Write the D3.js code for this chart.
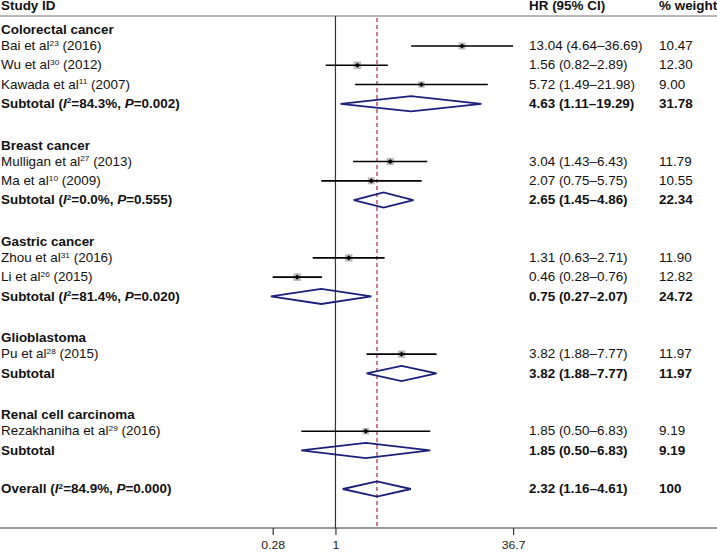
<!DOCTYPE html>
<html>
<head>
<meta charset="utf-8">
<script src="https://cdn.jsdelivr.net/npm/d3@7"></script>
<style>
  html, body { margin: 0; padding: 0; background: #fff; }
  svg { display: block; font-family: "Liberation Sans", Arial, sans-serif; }
</style>
</head>
<body>
<svg id="chart" width="717" height="552"></svg>
<script>
// ---- Data ----
const groups = ["Colorectal cancer", "Breast cancer", "Gastric cancer", "Glioblastoma", "Renal cell carcinoma"];

const studyAuthors = ["Bai et al", "Wu et al", "Kawada et al", "Mulligan et al", "Ma et al", "Zhou et al", "Li et al", "Pu et al", "Rezakhaniha et al"];
const studyRefs = ["23", "30", "11", "27", "10", "31", "26", "28", "29"];
const studyYears = ["2016", "2012", "2007", "2013", "2009", "2016", "2015", "2015", "2016"];
const studyGroup = [0, 0, 0, 1, 1, 2, 2, 3, 4];
const studyHR = [13.04, 1.56, 5.72, 3.04, 2.07, 1.31, 0.46, 3.82, 1.85];
const studyLo = [4.64, 0.82, 1.49, 1.43, 0.75, 0.63, 0.28, 1.88, 0.50];
const studyHi = [36.69, 2.89, 21.98, 6.43, 5.75, 2.71, 0.76, 7.77, 6.83];
const studyWeight = ["10.47", "12.30", "9.00", "11.79", "10.55", "11.90", "12.82", "11.97", "9.19"];

const subI2 = ["84.3%", "0.0%", "81.4%", null, null];
const subP = ["0.002", "0.555", "0.020", null, null];
const subHR = [4.63, 2.65, 0.75, 3.82, 1.85];
const subLo = [1.11, 1.45, 0.27, 1.88, 0.50];
const subHi = [19.29, 4.86, 2.07, 7.77, 6.83];
const subWeight = ["31.78", "22.34", "24.72", "11.97", "9.19"];

const overallI2 = "84.9%";
const overallP = "0.000";
const overallHR = 2.32;
const overallLo = 1.16;
const overallHi = 4.61;
const overallWeight = "100";

const tickValues = [0.28, 1, 36.7];
const tickLabels = ["0.28", "1", "36.7"];

// ---- Layout ----
const W = 717, H = 552;
const svg = d3.select("#chart");
const FS = 12;
const SX = 1.12; // horizontal stretch of the reference's lettering
const colLabel = 1, colHR = 529, colW = 659;
const headerLineY = 16, axisY = 528;

const x = d3.scaleLog().domain([0.28, 36.7]).range([272.7, 513.1]);
const fmt = d3.format(".2f");
const ciText = (h, l, u) => `${fmt(h)} (${fmt(l)}\u2013${fmt(u)})`;

// Build rows
const rows = [];
let r = 0;
groups.forEach((g, gi) => {
  rows.push({ type: "heading", row: r++, label: g });
  studyAuthors.forEach((a, si) => {
    if (studyGroup[si] !== gi) return;
    rows.push({ type: "study", row: r++, author: a, ref: studyRefs[si], year: studyYears[si],
      hr: studyHR[si], lo: studyLo[si], hi: studyHi[si], w: studyWeight[si] });
  });
  rows.push({ type: "sub", row: r++, i2: subI2[gi], p: subP[gi],
    hr: subHR[gi], lo: subLo[gi], hi: subHi[gi], w: subWeight[gi] });
  r++; // blank
});
rows.push({ type: "overall", row: r, i2: overallI2, p: overallP, hr: overallHR, lo: overallLo, hi: overallHi, w: overallWeight });

const y = d3.scaleLinear().domain([1, 24]).range([46, 489]);

const textG = svg.append("g").attr("font-size", FS).attr("fill", "#111");
function addText(px, py, bold, anchor) {
  return textG.append("g").attr("transform", `translate(${px},${py}) scale(${SX},1)`)
    .append("text").attr("x", 0).attr("y", 0).attr("dy", "0.35em")
    .attr("font-weight", bold ? "bold" : "normal")
    .attr("text-anchor", anchor || "start");
}

// ---- Header ----
addText(colLabel, 6, true).text("Study ID");
addText(colHR, 6, true).text("HR (95% CI)");
addText(colW, 6, true).text("% weight");

svg.append("line").attr("x1", 0).attr("x2", W).attr("y1", headerLineY).attr("y2", headerLineY)
  .attr("stroke", "#6e6e6e").attr("stroke-width", 1);

// ---- Reference lines ----
svg.append("line").attr("x1", x(1)).attr("x2", x(1)).attr("y1", headerLineY).attr("y2", axisY)
  .attr("stroke", "#333").attr("stroke-width", 1.2);
svg.append("line").attr("x1", x(overallHR)).attr("x2", x(overallHR)).attr("y1", headerLineY + 2).attr("y2", axisY)
  .attr("stroke", "#a8404e").attr("stroke-width", 1.3).attr("stroke-dasharray", "4,3");

// ---- Axis ----
const axis = d3.axisBottom(x).tickValues(tickValues).tickFormat((d, i) => tickLabels[i]).tickSize(7).tickSizeOuter(0);
const ax = svg.append("g").attr("transform", `translate(0,${axisY})`).call(axis);
ax.select(".domain").remove();
ax.selectAll(".tick line").attr("stroke", "#333").attr("stroke-width", 1.2);
ax.selectAll(".tick text")
  .attr("font-size", 11).attr("fill", "#222")
  .attr("font-family", "Liberation Sans, Arial, sans-serif")
  .attr("y", 0).attr("dy", 0)
  .attr("transform", `translate(0,20.5) scale(${SX},1)`);
svg.append("line").attr("x1", 0).attr("x2", W).attr("y1", axisY).attr("y2", axisY)
  .attr("stroke", "#333").attr("stroke-width", 1.2);

// ---- Rows text ----
function statLabel(sel, prefix, i2, p) {
  sel.append("tspan").text(prefix);
  if (i2 === null) return;
  sel.append("tspan").text(" (");
  sel.append("tspan").attr("font-style", "italic").text("I");
  sel.append("tspan").attr("font-size", FS * 0.62).attr("dy", -4.5).text("2");
  sel.append("tspan").attr("dy", 4.5).text(`=${i2}, `);
  sel.append("tspan").attr("font-style", "italic").text("P");
  sel.append("tspan").text(`=${p})`);
}

rows.forEach(d => {
  const yy = y(d.row);
  if (d.type === "heading") {
    addText(colLabel, yy + 3, true).text(d.label);
  } else if (d.type === "study") {
    const t = addText(colLabel, yy, false);
    t.append("tspan").text(d.author);
    t.append("tspan").attr("font-size", FS * 0.62).attr("dy", -4.5).text(d.ref);
    t.append("tspan").attr("dy", 4.5).text(` (${d.year})`);
    addText(colHR, yy, false).text(ciText(d.hr, d.lo, d.hi));
    addText(colW, yy, false).text(d.w);
  } else {
    const t = addText(colLabel, yy, true);
    statLabel(t, d.type === "overall" ? "Overall" : "Subtotal", d.i2, d.p);
    addText(colHR, yy, true).text(ciText(d.hr, d.lo, d.hi));
    addText(colW, yy, true).text(d.w);
  }
});

// ---- Marks ----
const marks = svg.append("g");
rows.filter(d => d.type === "study").forEach(d => {
  const yy = y(d.row), cx = x(d.hr);
  const s = 2.15 * Math.sqrt(+d.w);
  marks.append("rect").attr("x", cx - s / 2).attr("y", yy - s / 2).attr("width", s).attr("height", s).attr("fill", "#bdbdbd");
  marks.append("line").attr("x1", x(d.lo)).attr("x2", x(d.hi)).attr("y1", yy).attr("y2", yy)
    .attr("stroke", "#000").attr("stroke-width", 1.6);
  const k = 2.6;
  marks.append("path").attr("d", `M${cx - k},${yy}L${cx},${yy - k}L${cx + k},${yy}L${cx},${yy + k}Z`).attr("fill", "#000");
});
rows.filter(d => d.type === "sub" || d.type === "overall").forEach(d => {
  const yy = y(d.row), hh = 7.6;
  marks.append("path")
    .attr("d", `M${x(d.lo)},${yy}L${x(d.hr)},${yy - hh}L${x(d.hi)},${yy}L${x(d.hr)},${yy + hh}Z`)
    .attr("fill", "none").attr("stroke", "#1b1f7c").attr("stroke-width", 1.8).attr("stroke-linejoin", "miter");
});
</script>
</body>
</html>
